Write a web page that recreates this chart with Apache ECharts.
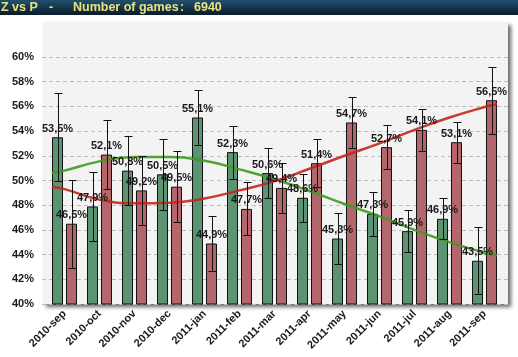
<!DOCTYPE html>
<html>
<head>
<meta charset="utf-8">
<script src="https://cdn.jsdelivr.net/npm/echarts@6/dist/echarts.min.js"></script>
<style>html,body{margin:0;padding:0;background:#fff;}#c{width:518px;height:357px;}</style>
</head>
<body>
<div id="c"></div>
<script>
const categories = ['2010-sep','2010-oct','2010-nov','2010-dec','2011-jan','2011-feb','2011-mar','2011-apr','2011-may','2011-jun','2011-jul','2011-aug','2011-sep'];
const zValues = [53.5, 47.9, 50.8, 50.5, 55.1, 52.3, 50.6, 48.6, 45.3, 47.3, 45.9, 46.9, 43.5];
const pValues = [46.5, 52.1, 49.2, 49.5, 44.9, 47.7, 49.4, 51.4, 54.7, 52.7, 54.1, 53.1, 56.5];
const errors  = [3.55, 2.8, 2.8, 2.9, 2.25, 2.15, 2.05, 1.95, 2.05, 1.8, 1.7, 1.65, 2.7];
const trendX  = [-0.36, 0, 1, 2, 3, 4, 5, 6, 7, 8, 9, 10, 11, 12, 12.36];
const zTrend  = [50.6, 50.8, 51.55, 51.9, 51.9, 51.6, 50.9, 50.1, 49.15, 48.1, 47.1, 46.0, 45.0, 44.15, 43.95];
const pTrend  = [49.5, 49.3, 48.45, 48.15, 48.2, 48.55, 49.2, 49.95, 50.95, 52.0, 53.0, 54.1, 55.1, 55.95, 56.2];
const titleParts = ['Z vs P', '-', 'Number of games', ':', '6940'];

const chart = echarts.init(document.getElementById('c'), null, {renderer: 'canvas'});
const fmt = v => v.toFixed(1).replace('.', ',') + '%';

function errSeries(vals, offset, name) {
  return {
    type: 'custom', name: name, xAxisIndex: 0, yAxisIndex: 0, z: 10,
    data: vals.map((v, i) => [i, v, errors[i]]),
    renderItem: function (params, api) {
      const i = api.value(0), v = api.value(1), e = api.value(2);
      const c = api.coord([i, v]);
      const t = api.coord([i, v + e]);
      const b = api.coord([i, v - e]);
      const x = Math.round(c[0] + offset) + 0.5;
      const st = {stroke: '#111', lineWidth: 1};
      return {type: 'group', children: [
        {type: 'line', shape: {x1: x, y1: Math.round(t[1]) + 0.5, x2: x, y2: Math.round(b[1]) + 0.5}, style: st},
        {type: 'line', shape: {x1: x - 4, y1: Math.round(t[1]) + 0.5, x2: x + 4, y2: Math.round(t[1]) + 0.5}, style: st},
        {type: 'line', shape: {x1: x - 4, y1: Math.round(b[1]) + 0.5, x2: x + 4, y2: Math.round(b[1]) + 0.5}, style: st},
        {type: 'text', x: x - 1, y: c[1] - 3, style: {text: fmt(v), fill: '#1a1a1a', font: 'bold 11px "Liberation Sans", Arial, sans-serif', align: 'center', verticalAlign: 'bottom'}}
      ]};
    }
  };
}

const titleX = [1, 49, 73, 180, 194];
const graphics = [
  {type: 'rect', left: 0, top: 0, shape: {width: 518, height: 15}, z: 0,
   style: {fill: new echarts.graphic.LinearGradient(0, 0, 0, 1, [{offset: 0, color: '#21506f'}, {offset: 1, color: '#0b1b2b'}])}},
  {type: 'rect', left: 43, top: 22, shape: {width: 465, height: 282}, z: -10, silent: true,
   style: {fill: '#f3f3f3', shadowColor: 'rgba(0,0,0,0.6)', shadowBlur: 4, shadowOffsetX: 3, shadowOffsetY: 3}}
].concat(titleParts.map((t, k) => ({
  type: 'text', x: titleX[k], y: 8, z: 1,
  style: {text: t, fill: '#ece27a', font: 'bold 12.5px "Liberation Sans", Arial, sans-serif', verticalAlign: 'middle'}
})));

chart.setOption({
  animation: false,
  backgroundColor: '#ffffff',
  graphic: graphics,
  grid: [
    {left: 47, right: 16, top: 57, bottom: 53},
    {left: 42, right: 10, top: 57, bottom: 53}
  ],
  xAxis: [
    {type: 'category', gridIndex: 0, data: categories, boundaryGap: true,
     axisLine: {show: false}, axisTick: {show: false}, splitLine: {show: false},
     axisLabel: {rotate: 45, margin: 8, color: '#1a1a1a', fontWeight: 'bold', fontSize: 11, fontFamily: '"Liberation Sans", Arial, sans-serif', interval: 0}},
    {type: 'value', gridIndex: 0, min: -0.5, max: 12.5, show: false},
    {type: 'value', gridIndex: 1, min: 0, max: 1, show: false}
  ],
  yAxis: [
    {type: 'value', gridIndex: 0, min: 40, max: 60, interval: 2, show: false, splitLine: {show: false}},
    {type: 'value', gridIndex: 1, min: 40, max: 60, interval: 2,
     axisLine: {show: false}, axisTick: {show: false},
     axisLabel: {formatter: v => v + '%', margin: 8, color: '#1a1a1a', fontWeight: 'bold', fontSize: 11, fontFamily: '"Liberation Sans", Arial, sans-serif'},
     splitLine: {show: true, showMaxLine: true, showMinLine: true, lineStyle: {type: [4, 3], color: '#bdbdbd', width: 1}}}
  ],
  series: [
    {type: 'bar', name: 'Z', xAxisIndex: 0, yAxisIndex: 0, data: zValues, barWidth: 11, barGap: '27%', z: 2,
     itemStyle: {color: '#5b9373', borderColor: '#111', borderWidth: 1}},
    {type: 'bar', name: 'P', xAxisIndex: 0, yAxisIndex: 0, data: pValues, barWidth: 11, barGap: '27%', z: 2,
     itemStyle: {color: '#b3666b', borderColor: '#111', borderWidth: 1}},
    {type: 'line', name: 'Z trend', xAxisIndex: 1, yAxisIndex: 0, z: 5, smooth: true, symbol: 'none',
     data: trendX.map((x, i) => [x, zTrend[i]]),
     lineStyle: {color: '#3d9a22', width: 2.5, opacity: 0.9}},
    {type: 'line', name: 'P trend', xAxisIndex: 1, yAxisIndex: 0, z: 5, smooth: true, symbol: 'none',
     data: trendX.map((x, i) => [x, pTrend[i]]),
     lineStyle: {color: '#c4261d', width: 2.5, opacity: 0.9}},
    errSeries(zValues, -7, 'Z err'),
    errSeries(pValues, 7, 'P err')
  ]
});
</script>
</body>
</html>
